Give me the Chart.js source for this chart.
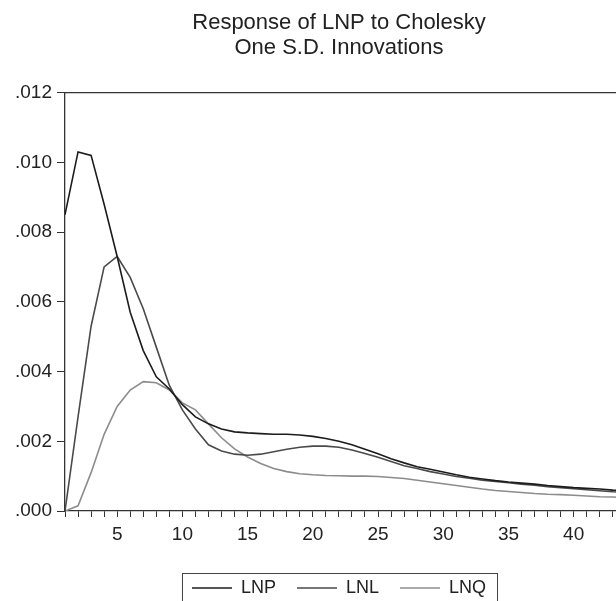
<!DOCTYPE html>
<html>
<head>
<meta charset="utf-8">
<script src="https://cdn.jsdelivr.net/npm/chart.js@4.4.1/dist/chart.umd.min.js"></script>
<style>
  html, body { margin: 0; padding: 0; background: #fff; overflow: hidden; }
  #wrap { width: 616px; height: 601px; overflow: hidden; }
  canvas { display: block; }
</style>
</head>
<body>
<div id="wrap"><canvas id="irf" width="690" height="607"></canvas></div>
<script>
// periods 1..44 (the plot continues past the right edge of the picture)
const periods = [];
for (let i = 1; i <= 44; i++) periods.push(i);

const lnp = [0.0085, 0.0103, 0.0102, 0.0088, 0.0073, 0.0057, 0.0046, 0.00385, 0.0035, 0.00305,
  0.0027, 0.0025, 0.00235, 0.00227, 0.00224, 0.00222, 0.0022, 0.0022, 0.00218, 0.00214,
  0.00208, 0.002, 0.0019, 0.00177, 0.00164, 0.0015, 0.00138, 0.00127, 0.0012, 0.00112,
  0.00104, 0.00097, 0.00092, 0.00087, 0.00083, 0.0008, 0.00077, 0.00073, 0.0007, 0.00067,
  0.00065, 0.00063, 0.0006, 0.00058];

const lnl = [0, 0.0027, 0.0053, 0.0070, 0.0073, 0.0067, 0.0058, 0.0047, 0.0036, 0.0029,
  0.00235, 0.0019, 0.00172, 0.00163, 0.0016, 0.00163, 0.0017, 0.00177, 0.00183, 0.00186,
  0.00186, 0.00183, 0.00175, 0.00165, 0.00154, 0.00142, 0.0013, 0.00122, 0.00113, 0.00106,
  0.00099, 0.00094, 0.00088, 0.00085, 0.00081, 0.00077, 0.00074, 0.0007, 0.00067, 0.00064,
  0.00061, 0.00058, 0.00055, 0.00053];

const lnq = [0, 0.00015, 0.0011, 0.0022, 0.0030, 0.00347, 0.00371, 0.00368, 0.00347, 0.0031,
  0.0029, 0.0025, 0.0021, 0.00178, 0.00155, 0.00136, 0.00122, 0.00113, 0.00107, 0.00104,
  0.00102, 0.00101, 0.001, 0.001, 0.00099, 0.00096, 0.00093, 0.00088, 0.00083, 0.00078,
  0.00073, 0.00068, 0.00063, 0.00059, 0.00056, 0.00053, 0.0005, 0.00048, 0.00047, 0.00045,
  0.00043, 0.00041, 0.0004, 0.00038];

const yTicks = [0, 0.002, 0.004, 0.006, 0.008, 0.010, 0.012];

Chart.defaults.font.family = '"Liberation Sans", Arial, sans-serif';
Chart.defaults.color = '#222';

const toPts = arr => arr.map((v, i) => ({ x: periods[i], y: v }));

// frame line on top of the plot + box around the legend
const framePlugin = {
  id: 'frame',
  afterDraw(chart) {
    const { ctx, chartArea: a } = chart;
    ctx.save();
    ctx.strokeStyle = '#333';
    ctx.lineWidth = 1.3;
    ctx.beginPath();
    ctx.moveTo(a.left, a.top);
    ctx.lineTo(a.right, a.top);
    ctx.lineTo(a.right, a.bottom);
    ctx.stroke();

    const hb = chart.legend.legendHitBoxes;
    if (hb && hb.length) {
      const first = hb[0], last = hb[hb.length - 1];
      const l = first.left - 10, r = last.left + last.width + 11;
      const t = first.top - 6;
      ctx.lineWidth = 1;
      ctx.strokeStyle = '#444';
      ctx.strokeRect(l + 0.5, t + 0.5, r - l, 40);
    }
    ctx.restore();
  }
};

new Chart(document.getElementById('irf'), {
  type: 'line',
  data: {
    datasets: [
      { label: 'LNP', data: toPts(lnp), borderColor: '#1c1c1c', borderWidth: 1.6 },
      { label: 'LNL', data: toPts(lnl), borderColor: '#4a4a4a', borderWidth: 1.6 },
      { label: 'LNQ', data: toPts(lnq), borderColor: '#8c8c8c', borderWidth: 1.6 }
    ]
  },
  options: {
    responsive: false,
    animation: false,
    devicePixelRatio: 1,
    elements: { point: { radius: 0 }, line: { tension: 0 } },
    layout: { padding: { left: 0, right: 12, top: 0, bottom: 0 } },
    plugins: {
      title: {
        display: true,
        text: ['Response of LNP to Cholesky', 'One S.D. Innovations'],
        font: { size: 22, weight: 'normal', lineHeight: 1.15 },
        color: '#222',
        padding: { top: 10, bottom: 32 }
      },
      legend: {
        position: 'bottom',
        labels: {
          usePointStyle: true,
          pointStyle: 'line',
          pointStyleWidth: 40,
          boxHeight: 18,
          padding: 21,
          font: { size: 18 },
          color: '#222'
        }
      },
      tooltip: { enabled: false }
    },
    scales: {
      x: {
        type: 'linear',
        min: 1,
        max: 48,
        afterFit: s => { s.height = 47; },
        border: { display: true, color: '#333', width: 1.3 },
        grid: { drawOnChartArea: false, drawTicks: true, tickLength: 6, color: '#333' },
        ticks: {
          stepSize: 1,
          autoSkip: false,
          maxRotation: 0,
          padding: 6,
          font: { size: 19 },
          color: '#222',
          callback: v => (v % 5 === 0 ? String(v) : '')
        }
      },
      y: {
        min: 0,
        max: 0.012,
        afterFit: s => { s.width = 65; },
        afterBuildTicks: s => { s.ticks = yTicks.map(v => ({ value: v })); },
        border: { display: true, color: '#333', width: 1.3 },
        grid: { drawOnChartArea: false, drawTicks: true, tickLength: 8, color: '#333' },
        ticks: {
          padding: 5,
          font: { size: 19 },
          color: '#222',
          callback: v => v.toFixed(3).replace(/^0/, '')
        }
      }
    }
  },
  plugins: [framePlugin]
});
</script>
</body>
</html>
